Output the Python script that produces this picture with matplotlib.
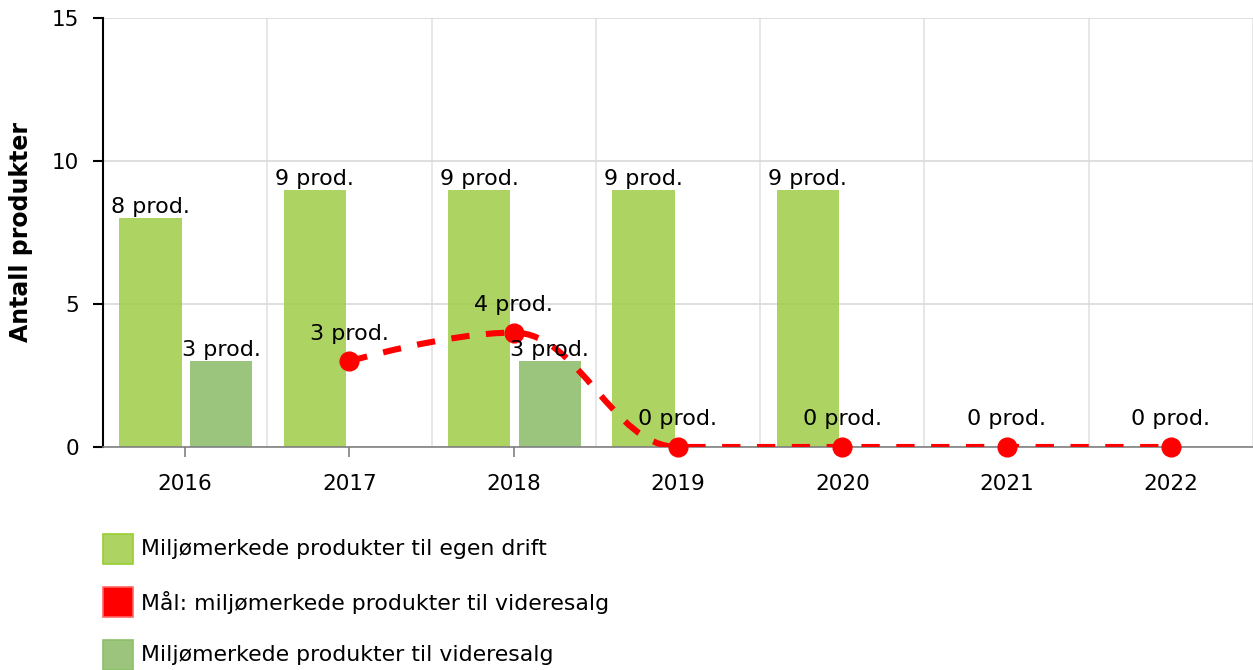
import numpy as np
import matplotlib
matplotlib.use("Agg")
import matplotlib.pyplot as plt
import matplotlib.patches as patches
from matplotlib.path import Path

# data
years = ["2016", "2017", "2018", "2019", "2020", "2021", "2022"]
egen_drift = [8, 9, 9, 9, 9, None, None]
videresalg = [3, None, 3, None, None, None, None]
maal_videresalg = [None, 3, 4, 0, 0, 0, 0]

legend_labels = [
    "Miljømerkede produkter til egen drift",
    "Mål: miljømerkede produkter til videresalg",
    "Miljømerkede produkter til videresalg",
]

plt.rcParams['font.family'] = ['DejaVu Sans']

c_egen = '#9FCC47'
c_videre = '#8ABA66'
c_red = '#FF0000'


def spline_path(xs, ys, smoothing=1.5):
    """Highcharts-style spline through the points -> matplotlib Path"""
    denom = smoothing + 1
    n = len(xs)
    left = [None] * n
    right = [None] * n
    for i in range(n):
        if i == 0 or i == n - 1:
            left[i] = (xs[i], ys[i])
            right[i] = (xs[i], ys[i])
            continue
        px, py = xs[i], ys[i]
        lx, ly = xs[i - 1], ys[i - 1]
        nx, ny = xs[i + 1], ys[i + 1]
        lcx = (smoothing * px + lx) / denom
        lcy = (smoothing * py + ly) / denom
        rcx = (smoothing * px + nx) / denom
        rcy = (smoothing * py + ny) / denom
        if rcx != lcx:
            corr = ((rcy - lcy) * (rcx - px)) / (rcx - lcx) + py - rcy
            lcy += corr
            rcy += corr
        if lcy > ly and lcy > py:
            lcy = max(ly, py)
            rcy = 2 * py - lcy
        elif lcy < ly and lcy < py:
            lcy = min(ly, py)
            rcy = 2 * py - lcy
        if rcy > ny and rcy > py:
            rcy = max(ny, py)
            lcy = 2 * py - rcy
        elif rcy < ny and rcy < py:
            rcy = min(ny, py)
            lcy = 2 * py - rcy
        left[i] = (lcx, lcy)
        right[i] = (rcx, rcy)
    verts = [(xs[0], ys[0])]
    codes = [Path.MOVETO]
    for i in range(1, n):
        verts += [right[i - 1], left[i], (xs[i], ys[i])]
        codes += [Path.CURVE4] * 3
    return Path(verts, codes)


fig = plt.figure(figsize=(12.53, 6.70), dpi=100)
ax = fig.add_axes([103 / 1253, 223 / 670, 1150 / 1253, 429 / 670])

x = np.arange(len(years))
width = 0.38
off1, off2 = -0.21, 0.22

# bars
for xi, v in zip(x, egen_drift):
    if v is None:
        continue
    ax.bar(xi + off1, v, width, color=c_egen, alpha=0.85, zorder=2, linewidth=0)
for xi, v in zip(x, videresalg):
    if v is None:
        continue
    ax.bar(xi + off2, v, width, color=c_videre, alpha=0.85, zorder=2, linewidth=0)

# red spline line
lx = [xi for xi, v in zip(x, maal_videresalg) if v is not None]
ly = [v for v in maal_videresalg if v is not None]
path = spline_path([float(a) for a in lx], [float(b) for b in ly])
ax.add_patch(patches.PathPatch(path, fill=False, edgecolor=c_red, linewidth=4.4,
                               linestyle=(0, (3.0, 2.7)), capstyle='butt', zorder=3))
ax.plot(lx, ly, 'o', color=c_red, markersize=13.5, zorder=4, clip_on=False)

# data labels
lab_fs = 16
for xi, v in zip(x, egen_drift):
    if v is not None:
        ax.annotate(f"{v} prod.", (xi + off1, v), xytext=(0, 3.6), textcoords='offset points',
                    ha='center', va='baseline', fontsize=lab_fs, zorder=5)
for xi, v in zip(x, videresalg):
    if v is not None:
        ax.annotate(f"{v} prod.", (xi + off2, v), xytext=(0, 3.6), textcoords='offset points',
                    ha='center', va='baseline', fontsize=lab_fs, zorder=5)
for xi, v in zip(lx, ly):
    ax.annotate(f"{v} prod.", (xi, v), xytext=(0, 15.5), textcoords='offset points',
                ha='center', va='baseline', fontsize=lab_fs, zorder=5)

# axes styling
ax.set_xlim(-0.5, len(years) - 0.5)
ax.set_ylim(0, 15)
ax.set_yticks([0, 5, 10, 15])
ax.set_xticks(x)
ax.set_xticklabels(years)
ax.set_xticks(np.arange(len(years) + 1) - 0.5, minor=True)

for s in ['top', 'right']:
    ax.spines[s].set_visible(False)
ax.spines['left'].set_color('black')
ax.spines['left'].set_linewidth(1.5)
ax.spines['bottom'].set_color('#808080')
ax.spines['bottom'].set_linewidth(1.2)

ax.tick_params(axis='y', length=7.2, width=1.5, color='black', labelsize=15.5, pad=9.8)
ax.tick_params(axis='x', which='major', length=7.2, width=1.2, color='#808080', labelsize=15.5, pad=12.2)
ax.tick_params(axis='x', which='minor', length=0)

ax.grid(True, axis='y', which='major', color='#d9d9d9', linewidth=1.2, zorder=1)
ax.grid(True, axis='x', which='minor', color='#e3e3e3', linewidth=1.2, zorder=1)
ax.grid(False, axis='x', which='major')
ax.set_axisbelow(True)

ax.set_ylabel("Antall produkter", fontsize=17, fontweight='bold')
ax.yaxis.set_label_coords((33 - 103) / 1150, 0.5)

# legend (vertical list under the plot)
legend_colors = [('#ADD463', '#9ACD32'), (c_red, '#FF6666'), ('#9CC47D', '#8DC06A')]
rows_y = [549, 602, 655]
for (fc, ec), label, ry in zip(legend_colors, legend_labels, rows_y):
    rect = patches.Rectangle((103 / 1253, (670 - ry - 15) / 670), 30 / 1253, 30 / 670,
                             transform=fig.transFigure, facecolor=fc, edgecolor=ec,
                             linewidth=1.2)
    fig.patches.append(rect)
    fig.text(141 / 1253, (670 - ry) / 670, label, fontsize=15.8, va='center', ha='left')

fig.savefig("out.png", dpi=100)
plt.close(fig)
